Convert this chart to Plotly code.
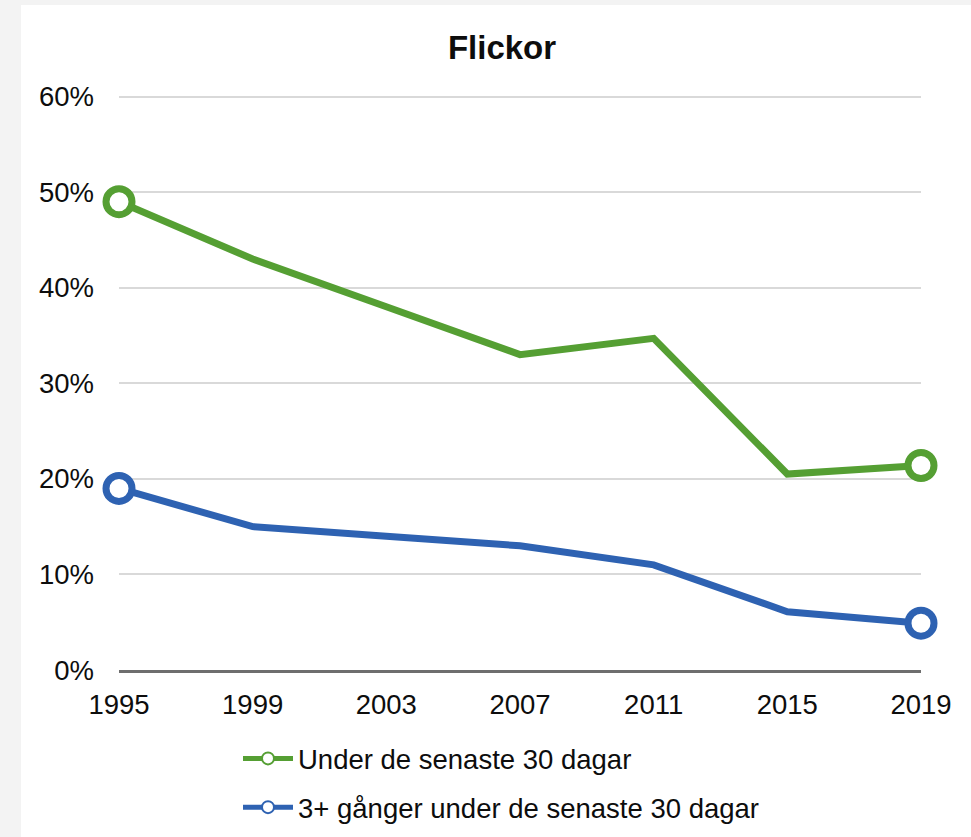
import plotly.graph_objects as go

years = [1995, 1999, 2003, 2007, 2011, 2015, 2019]
under_30 = [49.0, 43.0, 38.0, 33.0, 34.7, 20.5, 21.4]
three_plus = [19.0, 15.0, 14.0, 13.0, 11.0, 6.1, 4.9]
series_names = ["Under de senaste 30 dagar", "3+ gånger under de senaste 30 dagar"]
y_ticks = [0, 10, 20, 30, 40, 50, 60]
y_tick_labels = ["0%", "10%", "20%", "30%", "40%", "50%", "60%"]

GREEN = "#559F33"
BLUE = "#2E62B2"
FONT = "Liberation Sans, Arial, sans-serif"
TXT = "#0d0d0d"

def msizes(n, s):
    return [s if i in (0, n - 1) else 0 for i in range(n)]

fig = go.Figure()
for i, (vals, name, col) in enumerate([(under_30, series_names[0], GREEN),
                                        (three_plus, series_names[1], BLUE)]):
    fig.add_trace(go.Scatter(
        x=years, y=vals, name=name, mode="lines+markers", legendgroup=f"g{i}",
        line=dict(color=col, width=7),
        marker=dict(symbol="circle", size=msizes(len(years), 26), color="white",
                    opacity=1, line=dict(color=col, width=7)),
        cliponaxis=False,
    ))

W, H = 971, 837
PLOT_LEFT, PLOT_RIGHT, PLOT_TOP, PLOT_BOTTOM = 119, 921, 87, 670
L = PLOT_LEFT
R = W - PLOT_RIGHT
T = PLOT_TOP
B = H - PLOT_BOTTOM
ph = H - T - B
pw = W - L - R

def py(page_y):
    return (PLOT_BOTTOM - page_y) / ph

def px(page_x):
    return (page_x - PLOT_LEFT) / pw

# white card on grey page background
fig.add_shape(type="rect", xref="paper", yref="paper",
              x0=px(21), x1=px(W + 200), y0=py(H + 200), y1=py(5),
              fillcolor="white", line=dict(width=0), layer="below")

fig.update_layout(
    width=W, height=H,
    margin=dict(l=L, r=R, t=T, b=B, autoexpand=False),
    paper_bgcolor="#f3f3f3", plot_bgcolor="white",
    font=dict(family=FONT, size=27.5, color=TXT),
    title=dict(text="<b>Flickor</b>", font=dict(size=33, color=TXT),
               x=502 / W, xanchor="center", xref="container",
               y=1 - 47 / H, yanchor="middle", yref="container"),
    showlegend=True,
    legend=dict(orientation="v", xref="container", yref="container",
                x=238 / W, xanchor="left", y=1 - 734 / H, yanchor="top",
                font=dict(size=27.5, color=TXT), bgcolor="rgba(0,0,0,0)",
                traceorder="grouped", tracegroupgap=10, itemsizing="constant",
                itemwidth=50),
    xaxis=dict(range=[1995, 2019], tickvals=years, showgrid=False,
               showline=True, linecolor="#6e6e6e", linewidth=3,
               ticks="", ticklabelstandoff=8, zeroline=False),
    yaxis=dict(range=[0, 61], tickvals=y_ticks, ticktext=y_tick_labels,
               showgrid=True, gridcolor="#d9d9d9", gridwidth=2,
               zeroline=False, showline=False, ticks="", ticklabelstandoff=24),
)

fig.write_html(
    "out.html", config={"displayModeBar": False},
    post_script=("document.body.style.margin='0';"
                 "document.body.style.background='#f3f3f3';"))
